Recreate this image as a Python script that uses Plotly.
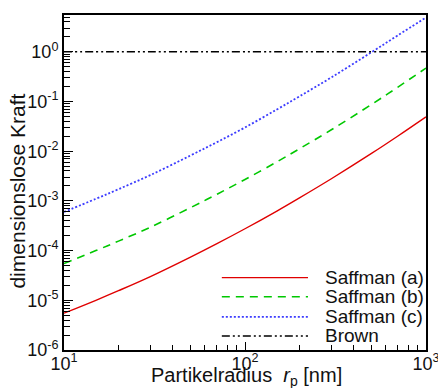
import plotly.graph_objects as go

# particle radius [nm]
radius = [10, 15, 20, 30, 50, 70, 100, 150, 200, 300, 500, 700, 1000]

# dimensionless forces
saffman_a = [5.5e-6, 1.0e-5, 1.56e-5, 3.0e-5, 7.4e-5, 1.38e-4, 2.75e-4,
             6.25e-4, 1.15e-3, 2.79e-3, 9.0e-3, 2.02e-2, 4.9e-2]
saffman_b = [5.5e-5, 1.0e-4, 1.55e-4, 2.95e-4, 7.3e-4, 1.36e-3, 2.7e-3,
             6.1e-3, 1.12e-2, 2.7e-2, 8.7e-2, 1.95e-1, 4.7e-1]
saffman_c = [6.0e-4, 1.1e-3, 1.72e-3, 3.3e-3, 8.2e-3, 1.52e-2, 3.0e-2,
             6.9e-2, 1.27e-1, 3.05e-1, 9.8e-1, 2.15, 4.9]
brown = [1.0] * len(radius)

series_names = ["Saffman (a)", "Saffman (b)", "Saffman (c)", "Brown"]
x_ticks = [10, 100, 1000]
x_ticktext = ["10<sup>1</sup>", "10<sup>2</sup>", "10<sup>3</sup>"]
y_ticks = [1e-6, 1e-5, 1e-4, 1e-3, 1e-2, 1e-1, 1e0]
y_ticktext = ["10<sup>-6</sup>", "10<sup>-5</sup>", "10<sup>-4</sup>", "10<sup>-3</sup>",
              "10<sup>-2</sup>", "10<sup>-1</sup>", "10<sup>0</sup>"]

styles = [
    dict(color="#e00000", width=1.4, dash="solid"),
    dict(color="#00c800", width=1.6, dash="8px,6px"),
    dict(color="#3c3cff", width=1.8, dash="2px,2px"),
    dict(color="#000000", width=1.4, dash="8px,3px,2px,3px,2px,3px"),
]

FONT = "Liberation Sans, Arial, sans-serif"
TXT = "#111111"

fig = go.Figure()
for name, ys, st in zip(series_names, [saffman_a, saffman_b, saffman_c, brown], styles):
    fig.add_trace(go.Scatter(x=radius, y=ys, mode="lines", name=name,
                             line=dict(shape="spline", **st), showlegend=False))

# legend drawn inside the lower right corner
leg_y = [0.216, 0.159, 0.099, 0.042]
for name, st, yy in zip(series_names, styles, leg_y):
    fig.add_shape(type="line", xref="paper", yref="paper",
                  x0=0.436, x1=0.674, y0=yy, y1=yy,
                  line=dict(color=st["color"], width=st["width"], dash=st["dash"]))
    fig.add_annotation(xref="paper", yref="paper", x=0.716, y=yy, text=name,
                       showarrow=False, xanchor="left", yanchor="middle",
                       font=dict(family=FONT, size=19, color=TXT))

# axis titles
fig.add_annotation(xref="paper", yref="paper", x=0.505, y=-0.080,
                   text="Partikelradius  <i>r</i><sub>p</sub> [nm]", showarrow=False,
                   xanchor="center", yanchor="middle",
                   font=dict(family=FONT, size=20, color=TXT))
fig.add_annotation(xref="paper", yref="paper", x=-0.127, y=0.473,
                   text="dimensionslose Kraft", showarrow=False, textangle=-90,
                   xanchor="center", yanchor="middle",
                   font=dict(family=FONT, size=21, color=TXT))

minor_x = [m * 10 ** k for k in (1, 2) for m in range(2, 10)]
minor_y = [m * 10.0 ** k for k in range(-6, 1) for m in range(2, 10)]

fig.update_xaxes(type="log", range=[1, 3], automargin=False, ticklabeloverflow="allow",
                 ticklabelstandoff=-4,
                 showline=True, linewidth=2, linecolor="black",
                 mirror=True, ticks="inside", ticklen=8, tickwidth=1.2, tickcolor="black",
                 tickmode="array", tickvals=x_ticks, ticktext=x_ticktext,
                 minor=dict(tickmode="array", tickvals=minor_x, ticks="inside",
                            ticklen=5, tickwidth=1, tickcolor="black", showgrid=False),
                 showgrid=False, zeroline=False,
                 tickfont=dict(family=FONT, size=18, color=TXT))
fig.update_yaxes(type="log", range=[-6, 0.74], automargin=False, ticklabeloverflow="allow",
                 showline=True, linewidth=2, linecolor="black",
                 mirror=True, ticks="inside", ticklen=9, tickwidth=1.2, tickcolor="black",
                 tickmode="array", tickvals=y_ticks, ticktext=y_ticktext,
                 minor=dict(tickmode="array", tickvals=minor_y, ticks="inside",
                            ticklen=6, tickwidth=1, tickcolor="black", showgrid=False),
                 showgrid=False, zeroline=False,
                 tickfont=dict(family=FONT, size=18, color=TXT))

fig.update_layout(width=438, height=388, margin=dict(l=64, r=12, t=15, b=38),
                  plot_bgcolor="white", paper_bgcolor="white", showlegend=False)

fig.write_html("out.html")
